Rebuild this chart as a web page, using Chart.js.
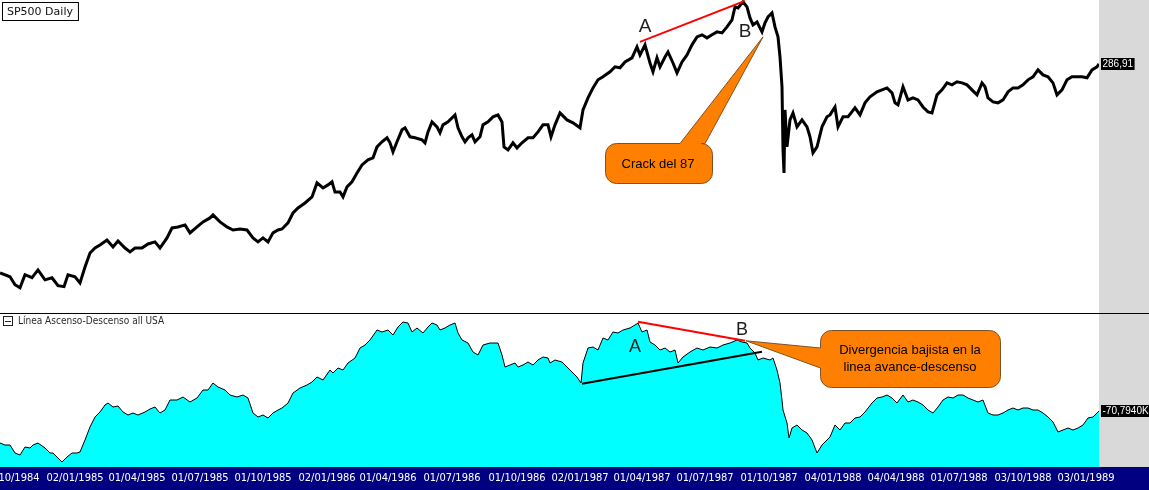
<!DOCTYPE html>
<html>
<head>
<meta charset="utf-8">
<script src="https://cdn.jsdelivr.net/npm/chart.js@4.4.0/dist/chart.umd.min.js"></script>
<style>
  html, body { margin: 0; padding: 0; background: #fff; overflow: hidden; }
  #wrap { position: relative; width: 1149px; height: 490px; }
  canvas { position: absolute; left: 0; }
  #priceCanvas { top: 0; }
  #adCanvas { top: 313px; }
</style>
</head>
<body>
<div id="wrap">
  <canvas id="priceCanvas" width="1149" height="313"></canvas>
  <canvas id="adCanvas" width="1149" height="177"></canvas>
</div>
<script>
// bar position (approx. trading day, 0..1099) and SP500 price
const priceBars = [0,10,15,20,25,32,38,45,52,58,64,68,75,80,85,90,95,100,107,113,118,125,130,135,142,148,155,160,167,172,178,185,190,197,203,210,213,220,227,233,240,247,253,258,263,268,273,278,282,288,293,298,305,312,317,323,328,332,335,340,343,347,352,357,362,368,373,377,382,387,390,393,397,402,405,410,415,422,425,428,432,437,440,443,448,455,458,462,465,468,472,475,480,483,488,493,498,502,504,508,513,517,522,528,533,538,543,548,551,555,560,567,573,580,583,588,593,598,603,610,615,620,625,632,637,640,645,650,653,657,660,665,668,673,677,682,687,692,697,702,707,712,717,722,727,732,735,738,743,747,750,753,757,762,765,768,772,775,778,780,782,783,784,785,787,790,793,797,802,807,810,813,817,822,827,830,835,838,843,848,855,860,865,870,877,882,887,892,895,898,903,908,913,918,923,928,932,937,942,947,952,957,962,967,972,977,982,985,988,993,998,1003,1008,1013,1018,1023,1028,1033,1038,1043,1048,1053,1057,1062,1067,1072,1077,1082,1087,1092,1097,1099];
const priceClose = [165.3,163.6,160.2,158.9,164.5,163.2,166.6,162.3,163.2,159.8,159.4,164.5,163.6,161.0,167.9,174.2,176.5,177.9,180.3,177.0,179.8,176.5,174.7,176.5,176.5,178.4,179.4,176.5,181.3,186.1,186.6,187.6,183.7,186.6,189.1,191.1,192.6,189.1,186.6,185.1,185.6,185.1,181.3,179.4,181.3,179.4,183.7,185.1,185.6,188.6,193.6,196.2,198.8,202.0,209.6,206.8,208.5,210.2,204.6,204.6,202.0,207.4,210.2,215.2,219.8,222.7,223.9,230.5,233.6,236.1,233.0,227.5,233.6,241.1,242.4,236.7,236.1,234.8,233.0,239.8,246.2,243.0,239.2,244.3,246.2,250.8,242.4,236.7,233.6,236.1,237.9,233.6,236.7,244.3,246.2,249.5,250.8,246.2,230.5,228.7,233.0,229.9,233.0,236.1,236.1,239.8,244.3,244.3,236.7,244.3,252.1,247.5,245.6,242.4,254.1,262.3,269.3,275.1,277.3,281.0,284.7,284.0,288.4,291.5,300.1,293.8,301.7,287.6,281.0,291.5,284.7,292.2,296.1,287.6,280.2,288.4,293.8,301.7,308.1,309.8,307.3,309.8,312.2,311.4,316.3,322.2,333.5,332.6,337.9,333.5,323.9,318.0,320.5,312.2,319.7,324.7,328.2,316.3,308.1,292.2,270.1,228.7,215.2,254.1,230.5,247.5,252.1,243.0,247.5,243.0,236.7,226.9,230.5,243.0,249.5,250.8,256.1,243.0,249.5,249.5,255.5,250.8,258.9,263.0,266.5,267.9,269.3,265.8,258.9,257.5,270.1,260.9,262.3,260.9,256.1,252.8,252.1,264.4,267.9,272.9,271.5,273.7,272.9,271.5,267.9,264.4,272.9,270.1,262.3,259.5,258.9,260.9,266.5,269.3,269.3,271.5,275.1,277.3,282.4,278.7,277.3,272.9,264.4,267.9,275.1,277.3,277.3,277.3,276.6,282.4,284.7,286.9];

// advance-decline line (thousands)
const adBars = [0,5,10,15,20,25,30,33,38,45,50,53,58,62,67,72,77,80,85,90,95,100,105,108,113,118,123,128,133,138,145,150,155,160,165,170,177,183,190,197,203,208,213,218,225,230,237,243,248,253,258,263,268,273,278,282,288,293,300,307,312,317,323,330,333,338,343,348,355,360,365,370,377,382,388,393,398,403,408,412,417,423,428,432,437,440,445,450,455,458,462,468,473,478,483,490,498,502,505,510,515,518,523,528,533,538,543,548,550,555,562,567,572,577,581,583,588,593,598,603,608,613,618,623,630,635,638,642,647,650,655,660,665,670,675,678,683,690,697,703,710,717,723,730,737,742,747,750,755,758,763,770,773,777,780,782,783,787,789,792,797,802,807,812,817,822,827,830,835,840,845,850,855,860,865,872,877,882,887,892,897,903,908,913,918,923,928,933,938,943,948,953,958,963,968,973,978,983,988,993,998,1003,1008,1013,1018,1023,1028,1033,1038,1043,1048,1053,1058,1063,1068,1073,1078,1083,1088,1093,1097,1099];
const adValues = [-103,-105,-105,-113,-115,-107,-108,-105,-103,-108,-113,-113,-118,-122,-117,-113,-113,-112,-100,-87,-77,-72,-65,-63,-67,-66,-72,-75,-73,-75,-72,-69,-67,-73,-70,-60,-60,-57,-62,-58,-50,-50,-43,-47,-50,-55,-57,-55,-58,-73,-77,-75,-78,-73,-70,-68,-63,-53,-48,-45,-42,-37,-40,-30,-33,-28,-30,-23,-18,-8,-5,0,10,8,10,5,13,18,17,8,12,7,13,17,15,10,12,15,17,7,0,-3,-12,-15,-5,-3,-3,-15,-27,-25,-23,-27,-25,-22,-25,-20,-17,-18,-23,-20,-22,-27,-32,-37,-43,-23,-8,-7,-10,2,0,8,7,10,12,15,17,8,10,-2,-5,-10,-8,-12,-10,-23,-17,-12,-8,-10,-7,-8,-5,-3,0,-2,-3,-8,-13,-20,-18,-20,-18,-30,-43,-60,-70,-83,-98,-88,-85,-90,-93,-100,-113,-105,-100,-97,-85,-90,-83,-83,-78,-77,-72,-63,-58,-57,-55,-58,-63,-55,-62,-60,-62,-65,-70,-73,-67,-60,-57,-58,-55,-55,-58,-60,-62,-60,-73,-75,-75,-73,-70,-68,-70,-68,-68,-70,-70,-73,-77,-82,-92,-90,-88,-90,-88,-85,-78,-77,-73,-71];

const dateTickBars = [11,75,137,200,263,327,388,452,517,580,642,705,769,833,896,959,1023,1086];
const dateTickLabels = ['01/10/1984','02/01/1985','01/04/1985','01/07/1985','01/10/1985','02/01/1986','01/04/1986','01/07/1986','01/10/1986','02/01/1987','01/04/1987','01/07/1987','01/10/1987','04/01/1988','04/04/1988','01/07/1988','03/10/1988','03/01/1989'];

const priceTitle = 'SP500 Daily';
const adTitle = 'Línea Ascenso-Descenso all USA';
const lastPriceLabel = '286,91';
const lastAdLabel = '-70,7940K';

const SANS = '"Liberation Sans", Arial, sans-serif';
const NARROW = '"Liberation Sans Narrow", "DejaVu Sans Condensed", "Liberation Sans", sans-serif';

function calloutPath(ctx, x, y, w, h, r, side, b1, b2, tx, ty) {
  ctx.beginPath();
  ctx.moveTo(x + r, y);
  if (side === 'top') { ctx.lineTo(b1, y); ctx.lineTo(tx, ty); ctx.lineTo(b2, y); }
  ctx.lineTo(x + w - r, y);
  ctx.arcTo(x + w, y, x + w, y + r, r);
  ctx.lineTo(x + w, y + h - r);
  ctx.arcTo(x + w, y + h, x + w - r, y + h, r);
  ctx.lineTo(x + r, y + h);
  ctx.arcTo(x, y + h, x, y + h - r, r);
  if (side === 'left') { ctx.lineTo(x, b2); ctx.lineTo(tx, ty); ctx.lineTo(x, b1); }
  ctx.lineTo(x, y + r);
  ctx.arcTo(x, y, x + r, y, r);
  ctx.closePath();
  ctx.fillStyle = '#ff8000';
  ctx.fill();
  ctx.strokeStyle = '#7d5226';
  ctx.lineWidth = 1;
  ctx.stroke();
}

function segment(ctx, chart, x1, v1, x2, v2, color, width) {
  const xs = chart.scales.x, ys = chart.scales.y;
  ctx.beginPath();
  ctx.moveTo(xs.getPixelForValue(x1), ys.getPixelForValue(v1));
  ctx.lineTo(xs.getPixelForValue(x2), ys.getPixelForValue(v2));
  ctx.strokeStyle = color;
  ctx.lineWidth = width;
  ctx.stroke();
}

function letter(ctx, chart, txt, x, v, size) {
  ctx.font = size + 'px ' + SANS;
  ctx.fillStyle = '#1e1e1e';
  ctx.textAlign = 'center';
  ctx.textBaseline = 'middle';
  ctx.fillText(txt, chart.scales.x.getPixelForValue(x), chart.scales.y.getPixelForValue(v));
}

function valueTag(ctx, txt, x, y) {
  ctx.font = '10px ' + SANS;
  const w = ctx.measureText(txt).width + 3;
  ctx.fillStyle = '#000';
  ctx.fillRect(x, Math.round(y) - 6, w, 12);
  ctx.fillStyle = '#fff';
  ctx.textAlign = 'left';
  ctx.textBaseline = 'middle';
  ctx.fillText(txt, x + 1.5, Math.round(y));
}

const priceDecor = {
  id: 'priceDecor',
  beforeDraw(chart) {
    const { ctx, chartArea, width, height } = chart;
    ctx.save();
    ctx.fillStyle = '#fff';
    ctx.fillRect(0, 0, width, height);
    ctx.fillStyle = '#d9d9d9';
    ctx.fillRect(chartArea.right, 0, width - chartArea.right, height);
    ctx.restore();
  },
  afterDatasetsDraw(chart) {
    const ctx = chart.ctx;
    const xs = chart.scales.x, ys = chart.scales.y;
    ctx.save();
    segment(ctx, chart, 640, 304.1, 745, 338.8, '#ff0000', 2);
    letter(ctx, chart, 'A', 645, 316.3, 19);
    letter(ctx, chart, 'B', 745, 312.2, 19);
    calloutPath(ctx, 605.5, 143.5, 107, 40, 11, 'top', 680, 705,
      xs.getPixelForValue(763), ys.getPixelForValue(308.1));
    ctx.font = '13px ' + SANS;
    ctx.fillStyle = '#000';
    ctx.textAlign = 'center';
    ctx.textBaseline = 'middle';
    ctx.fillText('Crack del 87', 658, 164);
    ctx.restore();
  },
  afterDraw(chart) {
    const { ctx, chartArea } = chart;
    ctx.save();
    ctx.font = '11px "DejaVu Sans", sans-serif';
    const tw = ctx.measureText(priceTitle).width;
    ctx.fillStyle = '#fff';
    ctx.fillRect(2, 2, tw + 10, 18);
    ctx.strokeStyle = '#000';
    ctx.lineWidth = 1;
    ctx.strokeRect(2.5, 2.5, tw + 10, 18);
    ctx.fillStyle = '#111';
    ctx.textAlign = 'left';
    ctx.textBaseline = 'middle';
    ctx.fillText(priceTitle, 7, 12);
    const last = priceClose[priceClose.length - 1];
    valueTag(ctx, lastPriceLabel, chartArea.right + 2, chart.scales.y.getPixelForValue(last));
    ctx.restore();
  }
};

const adDecor = {
  id: 'adDecor',
  beforeDraw(chart) {
    const { ctx, chartArea, width, height } = chart;
    ctx.save();
    ctx.fillStyle = '#fff';
    ctx.fillRect(0, 0, width, height);
    ctx.fillStyle = '#d9d9d9';
    ctx.fillRect(chartArea.right, 0, width - chartArea.right, chartArea.bottom);
    ctx.fillStyle = '#000080';
    ctx.fillRect(0, chartArea.bottom, width, height - chartArea.bottom);
    ctx.fillStyle = '#000';
    ctx.fillRect(0, 0, width, 1);
    ctx.restore();
  },
  afterDatasetsDraw(chart) {
    const ctx = chart.ctx;
    const xs = chart.scales.x, ys = chart.scales.y;
    ctx.save();
    segment(ctx, chart, 638, 18.2, 745, -0.8, '#ff0000', 2);
    segment(ctx, chart, 582, -43.8, 762, -11.8, '#000', 2);
    letter(ctx, chart, 'A', 635, -6.8, 18);
    letter(ctx, chart, 'B', 742, 10.2, 18);
    calloutPath(ctx, 820.5, 17.5, 180, 57, 11, 'left', 35, 55,
      xs.getPixelForValue(746), ys.getPixelForValue(-0.8));
    ctx.font = '13px ' + SANS;
    ctx.fillStyle = '#000';
    ctx.textAlign = 'center';
    ctx.textBaseline = 'middle';
    ctx.fillText('Divergencia bajista en la', 910, 37);
    ctx.fillText('linea avance-descenso', 910, 54);
    ctx.restore();
  },
  afterDraw(chart) {
    const { ctx, chartArea } = chart;
    ctx.save();
    ctx.strokeStyle = '#222';
    ctx.lineWidth = 1;
    ctx.strokeRect(3.5, 3.5, 9, 9);
    ctx.fillStyle = '#222';
    ctx.fillRect(5, 8, 6, 1);
    ctx.font = '10px ' + NARROW;
    ctx.fillStyle = '#2a2a2a';
    ctx.textAlign = 'left';
    ctx.textBaseline = 'middle';
    ctx.fillText(adTitle, 18, 8.5);
    const last = adValues[adValues.length - 1];
    valueTag(ctx, lastAdLabel, chartArea.right + 2, chart.scales.y.getPixelForValue(last));
    ctx.restore();
  }
};

new Chart(document.getElementById('priceCanvas'), {
  type: 'line',
  data: {
    datasets: [{
      data: priceBars.map((b, i) => ({ x: b, y: priceClose[i] })),
      borderColor: '#000',
      borderWidth: 3,
      pointRadius: 0,
      tension: 0,
      fill: false
    }]
  },
  options: {
    responsive: false,
    animation: false,
    devicePixelRatio: 1,
    events: [],
    layout: { padding: { left: 0, right: 50, top: 0, bottom: 0 } },
    plugins: { legend: { display: false }, tooltip: { enabled: false } },
    scales: {
      x: { type: 'linear', min: 0, max: 1099, display: false },
      y: { type: 'logarithmic', min: 148.7, max: 339.6, display: false }
    }
  },
  plugins: [priceDecor]
});

new Chart(document.getElementById('adCanvas'), {
  type: 'line',
  data: {
    datasets: [{
      data: adBars.map((b, i) => ({ x: b, y: adValues[i] })),
      borderColor: '#000',
      borderWidth: 1,
      backgroundColor: '#00ffff',
      fill: 'start',
      pointRadius: 0,
      tension: 0
    }]
  },
  options: {
    responsive: false,
    animation: false,
    devicePixelRatio: 1,
    events: [],
    layout: { padding: { left: 0, right: 50, top: 1, bottom: 0 } },
    plugins: { legend: { display: false }, tooltip: { enabled: false } },
    scales: {
      x: {
        type: 'linear', min: 0, max: 1099, position: 'bottom',
        grid: { display: false, drawTicks: false },
        border: { display: false },
        afterBuildTicks: s => { s.ticks = dateTickBars.map(v => ({ value: v })); },
        afterFit: s => { s.height = 23; s.paddingLeft = 0; s.paddingRight = 0; },
        ticks: {
          autoSkip: false, maxRotation: 0, minRotation: 0, padding: 5,
          color: '#ffffff',
          font: { family: NARROW, size: 11 },
          callback: (v, i) => dateTickLabels[i]
        }
      },
      y: { min: -127, max: 26, display: false }
    }
  },
  plugins: [adDecor]
});
</script>
</body>
</html>
